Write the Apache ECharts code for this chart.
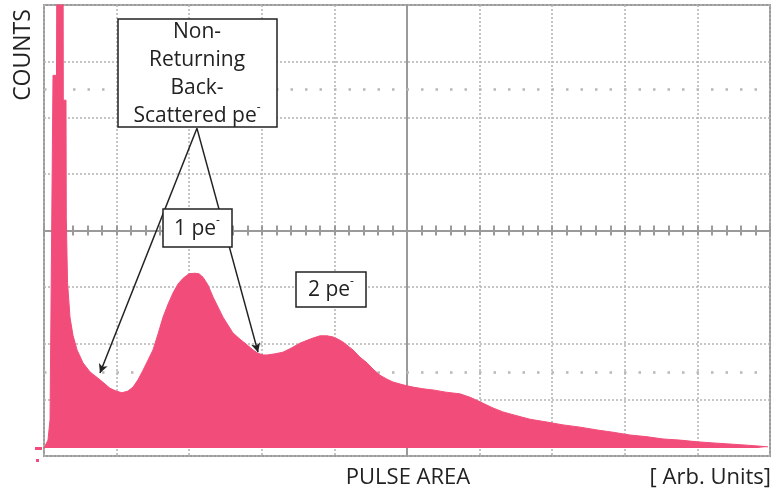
<!DOCTYPE html>
<html>
<head>
<meta charset="utf-8">
<script src="https://cdn.jsdelivr.net/npm/echarts@6/dist/echarts.min.js"></script>
<style>html,body{margin:0;padding:0;background:#fff;}#c{width:774px;height:492px;}</style>
</head>
<body>
<div id="c"></div>
<script>
// Pulse area in screen divisions (0..10), counts in divisions above histogram zero
const pulseArea = [0,0.055,0.083,0.110,0.124,0.172,0.179,0.262,0.266,0.303,0.307,0.317,0.324,0.358,0.399,0.455,0.537,0.634,0.771,0.909,0.992,1.074,1.157,1.226,1.295,1.364,1.433,1.501,1.570,1.639,1.708,1.777,1.846,1.915,1.997,2.080,2.135,2.190,2.259,2.328,2.397,2.466,2.534,2.603,2.700,2.796,2.879,2.948,3.017,3.072,3.182,3.292,3.402,3.526,3.623,3.705,3.802,3.898,3.981,4.050,4.118,4.187,4.256,4.353,4.449,4.532,4.628,4.725,4.807,4.945,5.083,5.220,5.358,5.537,5.730,5.868,6.006,6.102,6.185,6.322,6.460,6.694,6.928,7.149,7.383,7.617,7.837,8.072,8.306,8.526,8.760,8.994,9.215,9.449,9.683,9.835,9.972];
const counts = [0,0.14,0.50,0.50,6.61,6.61,9.5,9.5,6.17,6.17,4.10,4.10,2.94,2.32,2.00,1.74,1.51,1.35,1.21,1.06,1.01,0.98,1.01,1.08,1.21,1.38,1.56,1.74,2.02,2.32,2.55,2.75,2.91,3.01,3.09,3.10,3.09,3.03,2.89,2.68,2.50,2.32,2.18,2.04,1.93,1.83,1.74,1.68,1.65,1.65,1.67,1.70,1.77,1.86,1.91,1.95,1.99,1.99,1.97,1.93,1.88,1.81,1.74,1.61,1.51,1.40,1.29,1.22,1.17,1.12,1.08,1.05,1.03,0.99,0.96,0.90,0.82,0.76,0.71,0.64,0.59,0.51,0.46,0.41,0.37,0.32,0.28,0.23,0.20,0.16,0.14,0.11,0.09,0.07,0.05,0.035,0.02];
const cursorLevels = [6.37, 1.35];
const arrowFrom = [2.107, 5.67];
const arrowTips = [[0.771, 1.33], [2.948, 1.70]];

const pink = '#f24d7a';
const gridGray = '#b3b3b3';
const frameGray = '#9a9a9a';
const FONT = '"Open Sans", "Noto Sans", sans-serif';

const histData = pulseArea.map((x, i) => [x, counts[i]]);

const chart = echarts.init(document.getElementById('c'));
const supRich = { s: { fontSize: 12, fontFamily: FONT, fill: '#222', verticalAlign: 'top', lineHeight: 20 } };

function box(x, y, w, h, text, cx, cy) {
  return {
    type: 'group', z: 100,
    children: [
      { type: 'rect', shape: { x: x, y: y, width: w, height: h }, style: { fill: '#fff', stroke: '#222', lineWidth: 1.5 }, z: 100 },
      { type: 'text', x: cx, y: cy, z: 101, style: { text: text, rich: supRich, fontSize: 21, fontFamily: FONT, fill: '#222', align: 'center', verticalAlign: 'middle', lineHeight: 28 } }
    ]
  };
}

chart.setOption({
  animation: false,
  grid: { left: 44, right: 4, top: 5, bottom: 36, show: true, borderColor: frameGray, borderWidth: 2, backgroundColor: '#fff' },
  xAxis: [
    { type: 'value', min: 0, max: 10, interval: 1, axisLine: { show: false }, axisTick: { show: false }, axisLabel: { show: false },
      splitLine: { show: true, lineStyle: { color: gridGray, type: [2, 2], width: 1.5 } } },
    { type: 'value', min: 0, max: 10, interval: 1, axisLabel: { show: false }, splitLine: { show: false },
      axisLine: { show: true, onZero: true, onZeroAxisIndex: 2, lineStyle: { color: frameGray, width: 2 } },
      axisTick: { show: true, inside: false, length: 5, lineStyle: { color: frameGray, width: 2 } },
      minorTick: { show: true, splitNumber: 5, length: 5, lineStyle: { color: frameGray, width: 2 } } },
    { type: 'value', min: 0, max: 10, interval: 1, axisLabel: { show: false }, splitLine: { show: false },
      axisLine: { show: false, onZero: true, onZeroAxisIndex: 2 },
      axisTick: { show: true, inside: true, length: 5, lineStyle: { color: frameGray, width: 2 } },
      minorTick: { show: true, splitNumber: 5, length: 5, lineStyle: { color: frameGray, width: 2 } } },
    { type: 'value', min: -5, max: 5, show: false }
  ],
  yAxis: [
    { type: 'value', min: 0, max: 8, interval: 1, axisLine: { show: false }, axisTick: { show: false }, axisLabel: { show: false },
      splitLine: { show: true, lineStyle: { color: gridGray, type: [2, 2], width: 1.5 } } },
    { type: 'value', min: -0.142, max: 7.858, show: false, splitLine: { show: false } },
    { type: 'value', min: -4, max: 4, show: false },
    { type: 'value', min: 0, max: 8, axisLabel: { show: false }, splitLine: { show: false }, axisTick: { show: false },
      axisLine: { show: true, onZero: true, onZeroAxisIndex: 3, lineStyle: { color: frameGray, width: 2 } } }
  ],
  series: [
    { type: 'line', xAxisIndex: 0, yAxisIndex: 1, data: [], z: 1,
      markLine: { silent: true, symbol: ['none', 'none'], z: 1, label: { show: false },
        lineStyle: { color: '#b8b8b8', type: [2.5, 12], width: 2.5 },
        data: cursorLevels.map(v => ({ yAxis: v })) } },
    { type: 'line', name: 'counts', xAxisIndex: 0, yAxisIndex: 1, data: histData, z: 2,
      showSymbol: false, symbol: 'none', clip: true,
      lineStyle: { color: pink, width: 1 }, areaStyle: { color: pink, opacity: 1 } },
    { type: 'line', xAxisIndex: 0, yAxisIndex: 1, data: [], z: 6,
      markLine: { silent: true, symbol: ['none', 'arrow'], symbolSize: [7, 9], z: 6, label: { show: false },
        lineStyle: { color: '#222', type: 'solid', width: 1.5 },
        data: arrowTips.map(t => [{ coord: arrowFrom }, { coord: t }]) } }
  ],
  graphic: [
    box(118, 19, 159, 108, 'Non-\nReturning\nBack-\nScattered pe{s|-}', 197, 74),
    box(163, 209, 69, 38, '1 pe{s|-}', 197, 229),
    box(296, 272, 70, 35, '2 pe{s|-}', 331, 290),
    { type: 'text', x: 23, y: 55, rotation: Math.PI / 2, z: 100,
      style: { text: 'COUNTS', fontSize: 23, fontFamily: FONT, fill: '#222', align: 'center', verticalAlign: 'middle' } },
    { type: 'text', x: 408, y: 478, z: 100,
      style: { text: 'PULSE AREA', fontSize: 22, fontFamily: FONT, fill: '#222', align: 'center', verticalAlign: 'middle' } },
    { type: 'text', x: 771, y: 478, z: 100,
      style: { text: '[ Arb. Units]', fontSize: 22, fontFamily: FONT, fill: '#222', align: 'right', verticalAlign: 'middle' } },
    { type: 'rect', shape: { x: 35, y: 447, width: 7, height: 3 }, style: { fill: pink }, z: 100 },
    { type: 'rect', shape: { x: 36, y: 459, width: 3, height: 3 }, style: { fill: pink }, z: 100 }
  ]
});
</script>
</body>
</html>
